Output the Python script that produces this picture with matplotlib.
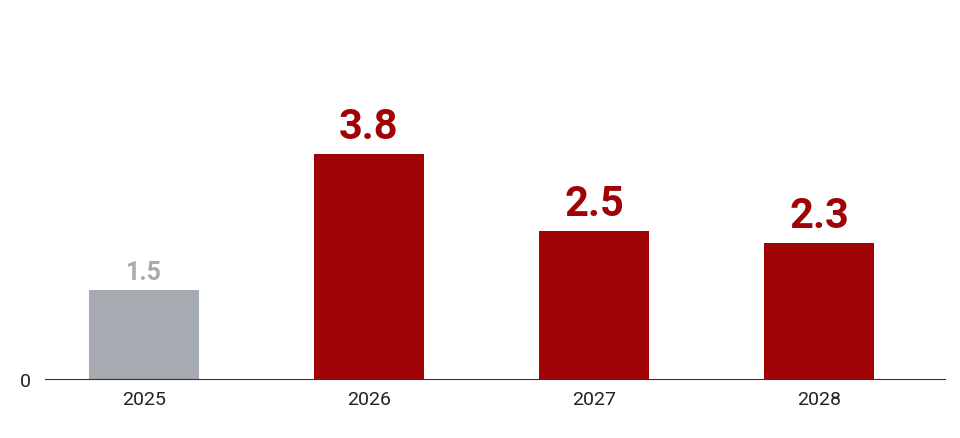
import matplotlib
matplotlib.use("Agg")
import matplotlib.pyplot as plt

years = ["2025", "2026", "2027", "2028"]
values = [1.5, 3.8, 2.5, 2.3]
colors = ["#a5abb0", "#a00306", "#a00306", "#a00306"]

plt.rcParams['font.family'] = ['Roboto', 'DejaVu Sans']
fig = plt.figure(figsize=(9.6, 4.39), dpi=100)
ax = fig.add_axes([45/960, 59/439, 900/960, 380/439])
x = range(len(years))
ax.bar(x, values, width=0.49, color=colors)
for i, v in enumerate(values):
    if i == 0:
        ax.text(i, v + 0.1, f"{v}", ha="center", va="bottom", fontsize=18, fontweight="bold", color="#a5abb0")
    else:
        ax.text(i, v + 0.12, f"{v}", ha="center", va="bottom", fontsize=30, fontweight="bold", color="#a00306")
ax.set_xlim(-0.44, 3.56)
ax.set_ylim(0, 6.42)
ax.set_xticks(list(x))
ax.set_xticklabels(years, fontsize=14, color="#222222")
ax.set_yticks([0])
ax.set_yticklabels(["0"], fontsize=14, color="#222222")
for s in ["top", "right", "left"]:
    ax.spines[s].set_visible(False)
ax.spines["bottom"].set_color("#333333")
ax.tick_params(axis="both", length=0, pad=8)
ax.tick_params(axis="y", pad=10)
fig.savefig("out.png", dpi=100)
